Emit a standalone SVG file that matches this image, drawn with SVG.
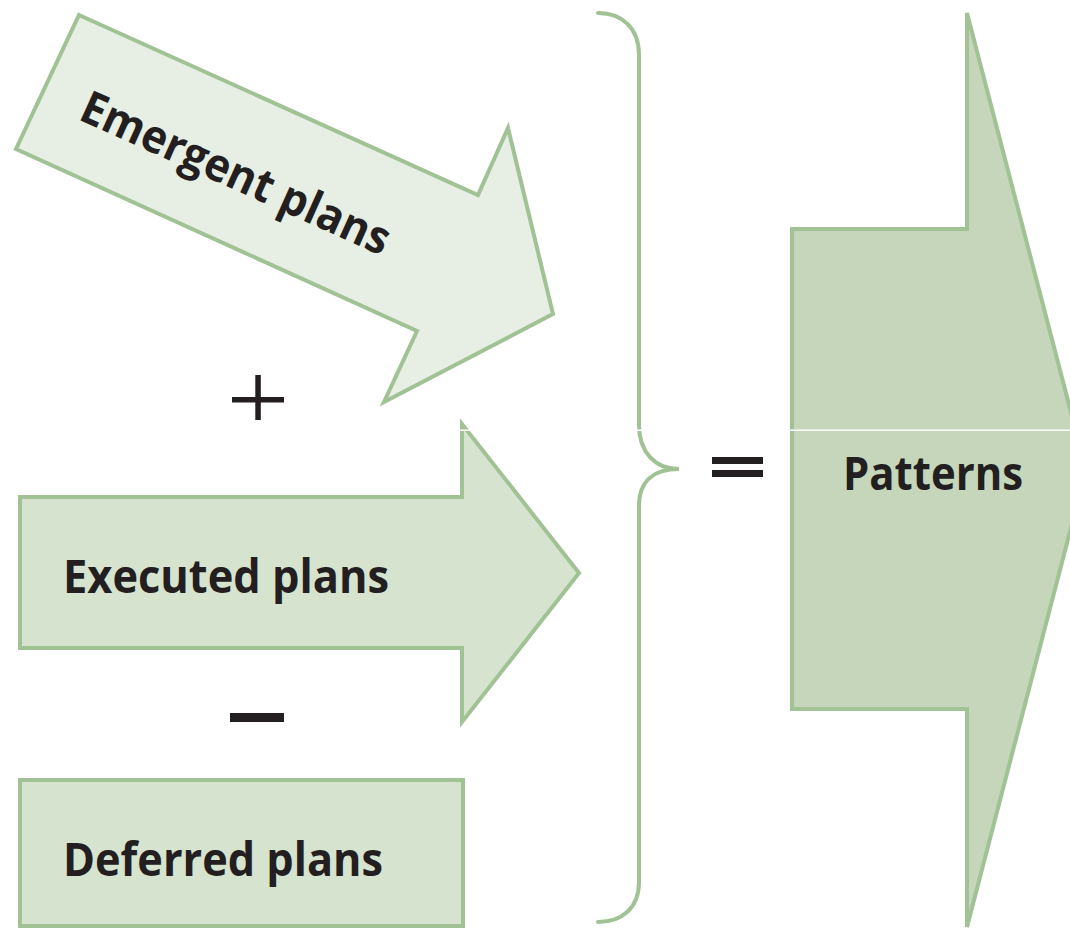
<svg xmlns="http://www.w3.org/2000/svg" width="1070" height="929" viewBox="0 0 1070 929">
  <style>
    .shape { stroke: #a0c294; stroke-width: 4; stroke-linejoin: miter; }
    .pale { fill: #e7eee3; }
    .mid { fill: #d6e3cf; }
    .deep { fill: #c5d6bb; }
    .label { font-family: "Open Sans", "Liberation Sans", sans-serif; font-weight: 700; font-size: 46px; fill: #231f20; }
    .op { fill: #231f20; }
    .brace { fill: none; stroke: #a0c294; stroke-width: 4; stroke-linecap: round; }
  </style>
  <rect width="1070" height="929" fill="#ffffff"/>

  <!-- inputs -->
  <g id="emergent-plans">
    <polygon class="shape pale" points="79,15 478,195 508,128 553,314 384,402 417,331 16,149"/>
    <text class="label" transform="translate(77,119) rotate(24.2)" textLength="334" lengthAdjust="spacingAndGlyphs">Emergent plans</text>
  </g>

  <g id="executed-plans">
    <polygon class="shape mid" points="20,497 462,497 462,424 579,573 462,722 462,648 20,648"/>
    <text class="label" x="63" y="593" textLength="326" lengthAdjust="spacingAndGlyphs">Executed plans</text>
  </g>

  <g id="deferred-plans">
    <rect class="shape mid" x="20" y="780" width="443" height="146"/>
    <text class="label" x="63" y="876" textLength="320" lengthAdjust="spacingAndGlyphs">Deferred plans</text>
  </g>

  <!-- result -->
  <g id="patterns">
    <polygon class="shape deep" points="792,229 967,229 967,13 1086,470 967,927 967,709 792,709"/>
    <text class="label" x="843" y="490" textLength="180" lengthAdjust="spacingAndGlyphs">Patterns</text>
  </g>

  <!-- operators and grouping brace -->
  <g id="connectors">
    <g id="plus">
      <rect class="op" x="232" y="397" width="52" height="5.5"/>
      <rect class="op" x="255.3" y="375" width="5.5" height="45"/>
    </g>
    <rect id="minus" class="op" x="230" y="713" width="54" height="9"/>
    <g id="equals">
      <rect class="op" x="712" y="457" width="51" height="7"/>
      <rect class="op" x="712" y="470" width="51" height="7"/>
    </g>
    <path id="brace" class="brace" d="M598,13 C622,13 639,28 639,55 L639,425 C639,452 655,469 679,469 C655,469 639,480 639,506 L639,882 C639,908 622,922 598,922"/>
  </g>

  <!-- thin seam across the right half -->
  <rect x="458" y="429.5" width="612" height="1.5" fill="#ffffff"/>
</svg>
